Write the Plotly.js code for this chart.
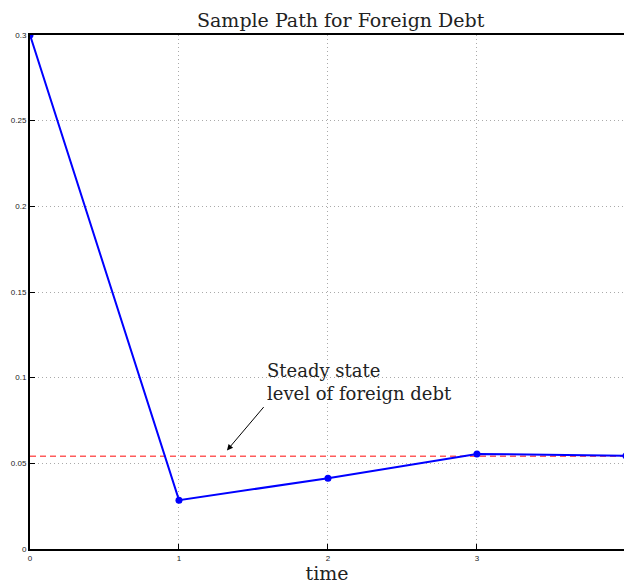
<!DOCTYPE html>
<html><head><meta charset="utf-8">
<script src="https://cdn.plot.ly/plotly-3.0.1.min.js"></script>
<style>html,body{margin:0;padding:0;background:#fff;}</style>
</head><body>
<div id="chart" style="width:624px;height:584px;"></div>
<script>
const timeSteps = [0, 1, 2, 3, 4];
const foreignDebt = [0.3, 0.0285, 0.0413, 0.0555, 0.0544];
const steadyState = 0.0541;
const steadyX = [0, 4];
const xTicks = [0, 1, 2, 3, 4];
const yTicks = [0, 0.05, 0.1, 0.15, 0.2, 0.25, 0.3];
const yTickText = ['0', '0.05', '0.1', '0.15', '0.2', '0.25', '0.3'];

const traces = [
  {x: steadyX, y: [steadyState, steadyState], mode: 'lines',
   line: {color: '#ff5c5c', width: 1.5, dash: '6px,4px'}, hoverinfo: 'skip'},
  {x: timeSteps, y: foreignDebt, mode: 'lines+markers',
   line: {color: '#0000ff', width: 2}, marker: {color: '#0000ff', size: 7}}
];
const serif = '"DejaVu Serif", "Liberation Serif", serif';
const layout = {
  width: 624, height: 584,
  margin: {l: 30, r: 0, t: 35, b: 35},
  showlegend: false,
  paper_bgcolor: '#fff', plot_bgcolor: '#fff',
  title: {text: 'Sample Path for Foreign Debt', x: 0.546, xanchor: 'center', y: 0.966, yanchor: 'middle',
          font: {family: serif, size: 19, color: '#222'}},
  xaxis: {range: [0, 3.987], tickvals: xTicks, ticktext: xTicks.map(String),
          showgrid: true, gridcolor: '#aaa', griddash: '1px,3px', gridwidth: 1,
          zeroline: false, showline: true, linecolor: '#000', linewidth: 2, mirror: true,
          ticks: 'inside', ticklen: 5, tickcolor: '#000',
          tickfont: {family: '"Liberation Sans", Arial, sans-serif', size: 8, color: '#222'},
          title: {text: 'time', font: {family: serif, size: 19, color: '#222'}, standoff: 1}},
  yaxis: {range: [0, 0.3], tickvals: yTicks, ticktext: yTickText,
          showgrid: true, gridcolor: '#aaa', griddash: '1px,3px', gridwidth: 1,
          zeroline: false, showline: true, linecolor: '#000', linewidth: 2, mirror: true,
          ticks: 'inside', ticklen: 5, tickcolor: '#000',
          tickfont: {family: '"Liberation Sans", Arial, sans-serif', size: 8, color: '#222'}},
  annotations: [
    {x: 1.322, y: 0.0575, xref: 'x', yref: 'y', ax: 1.577, ay: 0.0837, axref: 'x', ayref: 'y',
     text: '', showarrow: true, arrowhead: 2, arrowsize: 1.2, arrowwidth: 1, arrowcolor: '#000'},
    {x: 1.577, y: 0.1115, xref: 'x', yref: 'y', xanchor: 'left', yanchor: 'top', align: 'left',
     text: 'Steady state<br>level of foreign debt', showarrow: false,
     font: {family: serif, size: 18, color: '#222'}}
  ]
};
Plotly.newPlot('chart', traces, layout, {displayModeBar: false, staticPlot: true});
</script>
</body></html>
